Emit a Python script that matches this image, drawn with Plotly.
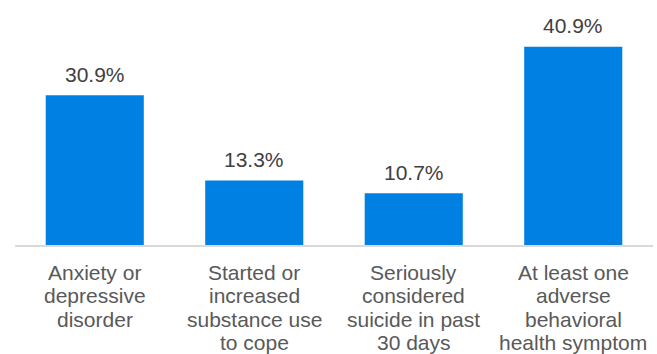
import plotly.graph_objects as go

categories = [
    "Anxiety or depressive disorder",
    "Started or increased substance use to cope",
    "Seriously considered suicide in past 30 days",
    "At least one adverse behavioral health symptom",
]
category_lines = [
    ["Anxiety or", "depressive", "disorder"],
    ["Started or", "increased", "substance use", "to cope"],
    ["Seriously", "considered", "suicide in past", "30 days"],
    ["At least one", "adverse", "behavioral", "health symptom"],
]
values = [30.9, 13.3, 10.7, 40.9]
labels = [f"{v:.1f}%" for v in values]

FONT = "Liberation Sans, Arial"

fig = go.Figure(go.Bar(
    x=categories, y=values,
    marker=dict(color="#0080E2", line=dict(width=0)),
    cliponaxis=False, hoverinfo="skip",
))

annotations = []
for cat, v, lab in zip(categories, values, labels):
    annotations.append(dict(
        x=cat, y=v, xref="x", yref="y", text=lab, showarrow=False,
        yanchor="middle", yshift=21,
        font=dict(family=FONT, size=21, color="#404040"),
    ))
for cat, lines in zip(categories, category_lines):
    for i, line in enumerate(lines):
        annotations.append(dict(
            x=cat, y=0, xref="x", yref="y", text=line, showarrow=False,
            yanchor="middle", yshift=-(27 + i * 23.5),
            font=dict(family=FONT, size=21, color="#595959"),
        ))

fig.update_layout(
    width=657, height=354,
    margin=dict(l=15, r=4, t=10, b=109, autoexpand=False),
    paper_bgcolor="white", plot_bgcolor="white",
    bargap=0.385, showlegend=False,
    font=dict(family=FONT, size=21, color="#595959"),
    annotations=annotations,
)
fig.update_xaxes(showline=True, linecolor="#D9D9D9", linewidth=1.5,
                 ticks="", showticklabels=False, automargin=False)
fig.update_yaxes(range=[0, 48.5], visible=False, showgrid=False, automargin=False)
fig.write_html("out.html", config={"displayModeBar": False},
               post_script="document.body.style.margin='0';")
